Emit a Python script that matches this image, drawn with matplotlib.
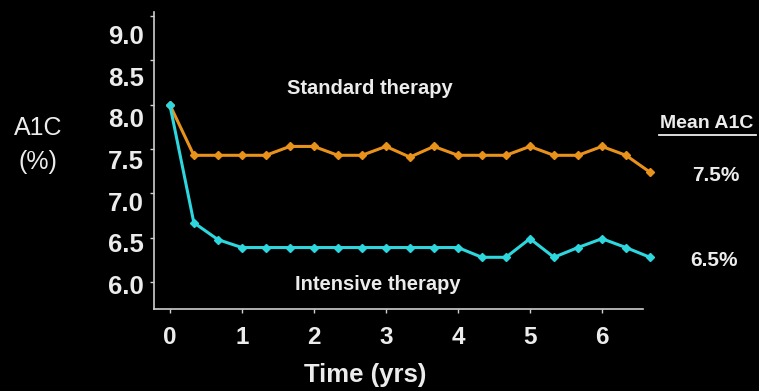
import matplotlib
matplotlib.use("Agg")
import matplotlib.pyplot as plt

# Visits every 4 months (years)
visit_years = [i / 3 for i in range(21)]

# Mean A1C (%) at each visit
standard_a1c = [8.0, 7.43, 7.43, 7.43, 7.43, 7.53, 7.53, 7.43, 7.43, 7.53, 7.41,
                7.53, 7.43, 7.43, 7.43, 7.53, 7.43, 7.43, 7.53, 7.43, 7.24]
intensive_a1c = [8.0, 6.67, 6.48, 6.39, 6.39, 6.39, 6.39, 6.39, 6.39, 6.39, 6.39,
                 6.39, 6.39, 6.28, 6.28, 6.49, 6.28, 6.39, 6.49, 6.39, 6.28]

y_ticks = [6.0, 6.5, 7.0, 7.5, 8.0, 8.5, 9.0]
y_tick_labels = ["6.0", "6.5", "7.0", "7.5", "8.0", "8.5", "9.0"]
x_ticks = [0, 1, 2, 3, 4, 5, 6]
x_tick_labels = ["0", "1", "2", "3", "4", "5", "6"]

ORANGE = "#e8921c"
CYAN = "#2ed6de"
WHITE = "#ececec"
W, H = 759, 391

plt.rcParams['font.family'] = ['Liberation Sans', 'DejaVu Sans']

fig = plt.figure(figsize=(7.59, 3.91), dpi=100, facecolor="black")
ax = fig.add_axes([154 / W, 1 - 309 / H, (643 - 154) / W, (309 - 12) / H])
ax.set_facecolor("black")

ax.plot(visit_years, standard_a1c, color=ORANGE, lw=2.2, marker="D", ms=4.5,
        mec=ORANGE, mfc=ORANGE, clip_on=False, zorder=3)
ax.plot(visit_years, intensive_a1c, color=CYAN, lw=2.2, marker="D", ms=4.5,
        mec=CYAN, mfc=CYAN, clip_on=False, zorder=4)

ax.set_xlim(-0.22, 6.57)
ax.set_ylim(5.697, 9.046)
ax.set_xticks(x_ticks)
ax.set_xticklabels(x_tick_labels)
ax.set_yticks(y_ticks)
ax.set_yticklabels([])

for side in ("top", "right"):
    ax.spines[side].set_visible(False)
for side in ("left", "bottom"):
    ax.spines[side].set_color("#cfcfcf")
    ax.spines[side].set_linewidth(1.2)

ax.tick_params(axis="both", colors="#cfcfcf", length=3, width=1.0,
               labelcolor=WHITE, labelsize=17.5)
ax.tick_params(axis="x", pad=9)
for lbl in ax.get_xticklabels():
    lbl.set_fontweight("bold")

# y tick labels sit a little below their tick marks, evenly spaced
for i, (v, s) in enumerate(zip(y_ticks, y_tick_labels)):
    py = 287 - i * 41.7
    fig.text(144 / W, 1 - py / H, s, color=WHITE, fontsize=18.5,
             fontweight="bold", ha="right", va="center")

fig.text(365 / W, 1 - 375 / H, "Time (yrs)", color=WHITE, fontsize=18.5,
         fontweight="bold", ha="center", va="center")

fig.text(38 / W, 1 - 128 / H, "A1C", color=WHITE, fontsize=18,
         ha="center", va="center")
fig.text(38 / W, 1 - 162 / H, "(%)", color=WHITE, fontsize=18,
         ha="center", va="center")

fig.text(370 / W, 1 - 88 / H, "Standard therapy", color=WHITE, fontsize=14.5,
         fontweight="bold", ha="center", va="center")
fig.text(378 / W, 1 - 285 / H, "Intensive therapy", color=WHITE, fontsize=14.5,
         fontweight="bold", ha="center", va="center")

fig.text(707 / W, 1 - 124 / H, "Mean A1C", color=WHITE, fontsize=14,
         fontweight="bold", ha="center", va="center")
fig.add_artist(plt.Line2D([659 / W, 756 / W], [1 - 135 / H, 1 - 135 / H],
                          color=WHITE, lw=1.3))
fig.text(716 / W, 1 - 175 / H, "7.5%", color=WHITE, fontsize=15,
         fontweight="bold", ha="center", va="center")
fig.text(714 / W, 1 - 261 / H, "6.5%", color=WHITE, fontsize=15,
         fontweight="bold", ha="center", va="center")

fig.savefig("out.png", dpi=100, facecolor="black")
